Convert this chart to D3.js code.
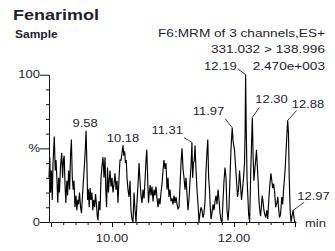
<!DOCTYPE html>
<html><head><meta charset="utf-8">
<script src="https://cdn.jsdelivr.net/npm/d3@7"></script>
<style>html,body{margin:0;padding:0;background:#fff;}svg{display:block;}</style>
</head><body>
<svg id="c" width="335" height="251"></svg>
<script>
// ---- data ----
const times = [8.967,8.980,8.993,9.007,9.020,9.033,9.054,9.069,9.082,9.098,9.111,9.125,9.138,9.156,9.175,9.190,9.203,9.216,9.230,9.243,9.259,9.272,9.289,9.305,9.320,9.334,9.349,9.364,9.377,9.393,9.410,9.423,9.439,9.452,9.467,9.484,9.500,9.516,9.531,9.550,9.563,9.575,9.588,9.600,9.613,9.626,9.640,9.655,9.670,9.685,9.700,9.715,9.730,9.745,9.758,9.770,9.787,9.803,9.820,9.836,9.852,9.869,9.885,9.898,9.911,9.926,9.941,9.954,9.967,9.984,10.000,10.016,10.033,10.049,10.066,10.082,10.098,10.115,10.131,10.148,10.164,10.180,10.193,10.207,10.220,10.233,10.246,10.262,10.279,10.295,10.311,10.328,10.344,10.361,10.377,10.393,10.410,10.426,10.443,10.459,10.475,10.492,10.508,10.525,10.541,10.557,10.570,10.584,10.598,10.611,10.626,10.639,10.656,10.672,10.689,10.705,10.721,10.738,10.754,10.770,10.787,10.803,10.820,10.836,10.852,10.869,10.885,10.902,10.918,10.934,10.951,10.967,10.984,11.000,11.016,11.033,11.049,11.066,11.082,11.098,11.115,11.131,11.148,11.164,11.180,11.197,11.213,11.230,11.246,11.262,11.279,11.295,11.310,11.322,11.336,11.348,11.361,11.377,11.393,11.410,11.426,11.443,11.459,11.475,11.492,11.508,11.525,11.541,11.557,11.570,11.584,11.598,11.611,11.623,11.639,11.656,11.672,11.689,11.705,11.721,11.738,11.754,11.770,11.787,11.803,11.820,11.836,11.852,11.869,11.885,11.902,11.918,11.934,11.951,11.970,11.984,11.995,12.008,12.025,12.041,12.057,12.074,12.090,12.107,12.123,12.139,12.156,12.172,12.182,12.190,12.200,12.213,12.226,12.240,12.256,12.275,12.300,12.313,12.326,12.340,12.355,12.368,12.382,12.395,12.408,12.422,12.435,12.448,12.462,12.475,12.490,12.505,12.520,12.537,12.553,12.570,12.586,12.605,12.620,12.633,12.650,12.666,12.682,12.703,12.718,12.730,12.746,12.762,12.783,12.798,12.812,12.828,12.840,12.855,12.880,12.893,12.905,12.920,12.935,12.950,12.970,12.980,12.995,13.016];
const intensity = [30,44,20,35,15,40,58,35,42,28,13,30,20,38,47,30,42,45,25,13,28,18,35,22,45,56,30,22,28,10,18,8,15,12,20,10,6,18,28,40,50,62,40,15,22,10,23,15,20,8,15,10,19,12,4,1,14,8,30,38,44,30,44,22,10,37,20,28,35,24,30,20,26,33,22,28,13,30,42,42,47,52,45,48,40,42,30,22,17,28,8,2,0,20,8,0,14,25,40,28,18,13,22,16,28,42,49,30,13,20,25,18,24,14,22,18,24,16,10,16,12,20,26,35,42,36,40,22,30,17,22,14,16,12,18,13,17,12,9,10,25,40,50,36,30,22,30,18,8,16,28,38,54,30,40,42,52,35,22,12,0,6,10,8,3,6,14,35,48,56,30,22,10,2,6,12,8,14,18,12,22,15,6,1,0,15,28,37,30,8,1,10,30,50,64,55,52,49,38,28,17,22,35,25,15,22,30,40,62,100,65,30,18,5,0,35,71,45,28,35,42,49,38,28,15,8,4,10,18,14,8,5,3,8,2,15,25,33,28,23,26,20,10,13,17,10,3,5,17,12,22,30,37,50,69,60,30,8,0,4,8,4,0,0];
const peakTimes = [9.575, 10.180, 11.310, 11.970, 12.190, 12.300, 12.880, 12.970];
const peakTexts = ["9.58", "10.18", "11.31", "11.97", "12.19", "12.30", "12.88", "12.97"];
const xTickValues = [10, 12];
const xTickLabels = ["10.00", "12.00"];
const yTickValues = [0, 50, 100];
const yTickLabels = ["0", "%", "100"];
const title = "Fenarimol";
const subtitle = "Sample";
const infoLines = ["F6:MRM of 3 channels,ES+", "331.032 > 138.996", "2.470e+003"];

// ---- layout ----
const SX = 1.3; // horizontal text stretch of the reference
const FONT = "'Liberation Sans', Arial, sans-serif";
const TXT = "#1e1e2e";
const svg = d3.select("#c");
const x = d3.scaleLinear().domain([8.967, 13.016]).range([49, 296]);
const y = d3.scaleLinear().domain([0, 100]).range([222, 74.7]);

function addText(px, py, s, size, anchor, weight, sx) {
  svg.append("text")
    .attr("transform", `translate(${px},${py}) scale(${sx || SX},1)`)
    .attr("text-anchor", anchor || "start")
    .attr("font-family", FONT)
    .attr("font-size", size)
    .attr("font-weight", weight || "normal")
    .attr("fill", TXT)
    .text(s);
}

addText(13, 19.5, title, 15, "start", "bold", 1.2);
addText(15, 38, subtitle, 10, "start", "bold", 1.2);
addText(325, 37, infoLines[0], 10.5, "end");
addText(325, 53, infoLines[1], 10.5, "end");
addText(325, 70, infoLines[2], 10.5, "end");

// data line
const line = d3.line().x((d, i) => x(times[i])).y(d => y(d));
svg.append("path").datum(intensity)
  .attr("d", line)
  .attr("fill", "none")
  .attr("stroke", "#000")
  .attr("stroke-width", 1.15)
  .attr("stroke-linejoin", "miter");

// y axis
const gy = svg.append("g").attr("transform", `translate(49,0)`);
gy.call(d3.axisLeft(y).tickValues(d3.range(0, 101, 10)).tickSize(3).tickFormat("").tickSizeOuter(0));
gy.selectAll("path").attr("stroke", "#111");
gy.selectAll("line").attr("stroke", "#111");
gy.selectAll(".tick").filter(d => yTickValues.includes(d)).select("line").attr("x2", -9);
yTickValues.forEach((v, i) => addText(40, y(v) + 3.5, yTickLabels[i], 10, "end"));

// x axis
const gx = svg.append("g").attr("transform", `translate(0,222)`);
gx.call(d3.axisBottom(x).tickValues(d3.range(9, 13.01, 0.2)).tickSize(3).tickFormat("").tickSizeOuter(0));
gx.selectAll("path").attr("stroke", "#111");
gx.selectAll("line").attr("stroke", "#111");
gx.selectAll(".tick").filter(d => Math.abs(d - Math.round(d)) < 1e-6).select("line").attr("y2", 5);
xTickValues.forEach((v, i) => addText(x(v), 242, xTickLabels[i], 10, "middle"));
addText(305, 227, "min", 10, "start");

// peak labels: [dx, dy(baseline), anchor, leader (label point -> peak)]
const labelLayout = [
  {dx: -1, dy: -4, anchor: "middle"},
  {dx: 0, dy: -3, anchor: "middle"},
  {dx: -9, dy: -8, anchor: "end", lx: -8, ly: -5},
  {dx: -8, dy: -13, anchor: "end", lx: -7, ly: -9},
  {dx: -9, dy: -5, anchor: "end", lx: -8, ly: -6},
  {dx: 3, dy: -14, anchor: "start", lx: 7, ly: -10},
  {dx: 4, dy: -12, anchor: "start", lx: 9, ly: -10},
  {dx: 4, dy: -10, anchor: "start", lx: 11, ly: -8}
];
peakTimes.forEach((t, i) => {
  const idx = d3.minIndex(times, tt => Math.abs(tt - t));
  const px = x(times[idx]), py = y(intensity[idx]);
  const L = labelLayout[i];
  addText(px + L.dx, py + L.dy, peakTexts[i], 10, L.anchor);
  if (L.lx !== undefined) {
    svg.append("line").attr("x1", px + L.lx).attr("y1", py + L.ly).attr("x2", px).attr("y2", py)
      .attr("stroke", "#222").attr("stroke-width", 0.9);
  }
});
</script>
</body></html>
